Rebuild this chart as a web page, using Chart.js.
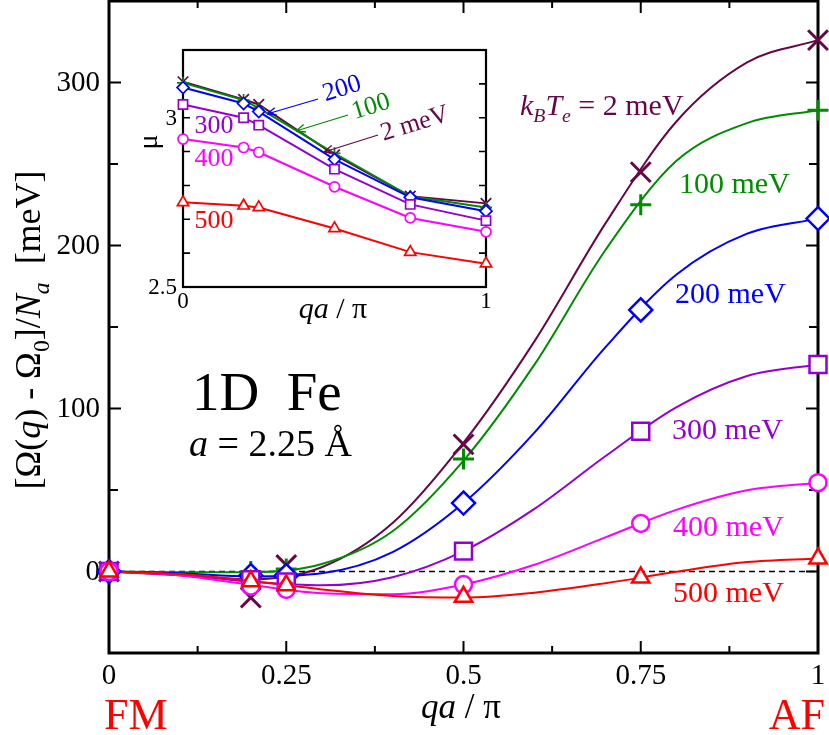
<!DOCTYPE html>
<html>
<head>
<meta charset="utf-8">
<script src="https://cdn.jsdelivr.net/npm/chart.js@4.4.1/dist/chart.umd.min.js"></script>
<style>
  body { margin: 0; background: #fff; }
  #wrap { position: relative; width: 829px; height: 735px; }
  #main { position: absolute; left: 0; top: 0; }
  #inset { position: absolute; left: 130px; top: 40px; }
</style>
</head>
<body>
<div id="wrap">
  <canvas id="main" width="829" height="735"></canvas>
  <canvas id="inset" width="370" height="290"></canvas>
</div>
<script>
const serif = '"Liberation Serif", "Times New Roman", serif';

// electron temperatures kB*Te (meV)
const temps = ['2', '100', '200', '300', '400', '500'];

// calculated energies [Omega(q) - Omega0]/Na (meV)
const qCalc = [0, 0.2, 0.25, 0.5, 0.75, 1];
const dOmega2   = [0, -16, 4, 78, 245, 326];
const dOmega100 = [0, 0, 1.5, 69, 225, 283];
const dOmega200 = [0, -2.5, -2.5, 42, 160.5, 216.5];
const dOmega300 = [0, -5, -6.5, 12.5, 86, 127];
const dOmega400 = [0, -9, -11, -8, 29.5, 54.5];
const dOmega500 = [0, -6, -8.5, -15.5, -3.7, 8];

// smooth fit curves through the calculated points
const qFit = [0, 0.1, 0.2, 0.3, 0.4, 0.5, 0.6, 0.7, 0.8, 0.9, 1];
const fit2   = [0, -2.3, -4.8, 2.6, 29.7, 79, 141.2, 213.4, 275.9, 312.3, 326];
const fit100 = [0, -0.4, -0.4, 4.6, 24.7, 68, 126.9, 197.1, 251.8, 275.1, 283];
const fit200 = [0, -1.1, -3.0, -1.1, 11.9, 42, 85.2, 137.5, 182.1, 207.3, 216.5];
const fit300 = [0, -1.9, -6.2, -8.5, -3.5, 12.5, 38.4, 70.7, 100.7, 119.9, 127];
const fit400 = [0, -2.4, -8.2, -13.3, -13.9, -8, 4.1, 20.9, 37.8, 49.8, 54.5];
const fit500 = [0, -1.6, -5.8, -11.0, -15.0, -16, -13.0, -7.2, -0.2, 5.8, 8];

// inset: local moment mu
const mu2   = [3.106, 3.054, 3.039, 2.890, 2.768, 2.747];
const mu100 = [3.103, 3.052, 3.028, 2.895, 2.768, 2.735];
const mu200 = [3.089, 3.042, 3.018, 2.877, 2.765, 2.724];
const mu300 = [3.039, 3.000, 2.978, 2.848, 2.744, 2.696];
const mu400 = [2.937, 2.912, 2.898, 2.796, 2.704, 2.663];
const mu500 = [2.750, 2.740, 2.735, 2.673, 2.603, 2.569];

// ticks
const xTicks = [0, 0.25, 0.5, 0.75, 1];
const xTickLabels = ['0', '0.25', '0.5', '0.75', '1'];
const xMinor = [0.125, 0.375, 0.625, 0.875];
const yTicks = [0, 100, 200, 300];
const yMinor = [-50, 50, 150, 250];
const zeroQ = [0, 1];
const zeroLine = [0, 0];
const insetXTicks = [0, 1];
const insetYTicks = [2.5, 3];
const insetYLabels = ['2.5', '3'];
const insetYMinor = [2.6, 2.7, 2.8, 2.9, 3.1];

const colors = ['rgb(103,7,72)', 'rgb(0,139,0)', 'rgb(0,0,255)', 'rgb(148,0,211)', 'rgb(255,0,255)', 'rgb(255,0,0)'];
const symbols = ['crossRot', 'cross', 'rectRot', 'rect', 'circle', 'triangle'];
const mainRadius = [14, 10.5, 11.5, 12, 8.5, 10];
const mainPointWidth = [3, 3, 2.5, 2.5, 2.5, 2.5];
const insetRadius = [7.5, 6, 6, 6.5, 5, 6.5];

const calc = [dOmega2, dOmega100, dOmega200, dOmega300, dOmega400, dOmega500];
const fits = [fit2, fit100, fit200, fit300, fit400, fit500];
const mus = [mu2, mu100, mu200, mu300, mu400, mu500];

const xy = (xs, ys) => xs.map((x, i) => ({ x: x, y: ys[i] }));

Chart.defaults.font.family = serif;
Chart.defaults.color = '#000';

// text made of pieces: '' normal, 'i' italic, 'sub' subscript, 'isub' italic subscript
function richText(ctx, parts, x, y, size, align) {
  const pieces = parts.map(([t, st]) => {
    const small = st.includes('sub');
    const fs = small ? size * 0.66 : size;
    const font = (st.startsWith('i') ? 'italic ' : '') + fs + 'px ' + serif;
    ctx.font = font;
    return { t: t, font: font, w: ctx.measureText(t).width, dy: small ? size * 0.24 : 0 };
  });
  const total = pieces.reduce((s, p) => s + p.w, 0);
  let cx = align === 'center' ? x - total / 2 : (align === 'right' ? x - total : x);
  ctx.textAlign = 'left';
  ctx.textBaseline = 'alphabetic';
  pieces.forEach(p => { ctx.font = p.font; ctx.fillText(p.t, cx, y + p.dy); cx += p.w; });
}

function plainText(ctx, t, x, y, size, color, align, baseline) {
  ctx.font = size + 'px ' + serif;
  ctx.fillStyle = color;
  ctx.textAlign = align || 'left';
  ctx.textBaseline = baseline || 'alphabetic';
  ctx.fillText(t, x, y);
}

// ---------- main panel ----------
const mainSets = [];
temps.forEach((t, i) => {
  mainSets.push({
    label: t + ' meV',
    data: xy(qCalc, calc[i]),
    pointStyle: symbols[i],
    pointRadius: mainRadius[i],
    pointBorderWidth: mainPointWidth[i],
    pointBorderColor: colors[i],
    pointBackgroundColor: '#fff',
    showLine: false,
    clip: false,
    order: 5 - i
  });
  mainSets.push({
    label: t + ' meV fit',
    data: xy(qFit, fits[i]),
    showLine: true,
    borderColor: colors[i],
    borderWidth: 2,
    pointRadius: 0,
    cubicInterpolationMode: 'monotone',
    clip: false,
    order: 20 - i
  });
});
mainSets.push({
  label: 'zero',
  data: xy(zeroQ, zeroLine),
  showLine: true,
  borderColor: '#000',
  borderWidth: 1.3,
  borderDash: [6, 4],
  pointRadius: 0,
  order: 30
});

const mainFrame = {
  id: 'mainFrame',
  beforeDatasetsDraw(chart) {
    const { ctx, chartArea: a, scales: { x, y } } = chart;
    ctx.save();
    ctx.strokeStyle = '#000';
    ctx.lineWidth = 2;
    ctx.beginPath();
    const xt = (v, len) => {
      const p = x.getPixelForValue(v);
      ctx.moveTo(p, a.bottom); ctx.lineTo(p, a.bottom - len);
      ctx.moveTo(p, a.top); ctx.lineTo(p, a.top + len);
    };
    const yt = (v, len) => {
      const p = y.getPixelForValue(v);
      ctx.moveTo(a.left, p); ctx.lineTo(a.left + len, p);
      ctx.moveTo(a.right, p); ctx.lineTo(a.right - len, p);
    };
    xTicks.forEach(v => xt(v, 12));
    xMinor.forEach(v => xt(v, 7));
    yTicks.forEach(v => yt(v, 12));
    yMinor.forEach(v => yt(v, 9));
    ctx.stroke();
    ctx.lineWidth = 3;
    ctx.strokeRect(a.left, a.top, a.right - a.left, a.bottom - a.top);

    // tick labels
    xTicks.forEach((v, i) => plainText(ctx, xTickLabels[i], x.getPixelForValue(v), a.bottom + 31, 29, '#000', 'center'));
    yTicks.forEach(v => plainText(ctx, String(v), a.left - 9, y.getPixelForValue(v) + 1, 29, '#000', 'right', 'middle'));
    ctx.restore();
  },
  afterDraw(chart) {
    const ctx = chart.ctx;
    ctx.save();
    // axis titles
    ctx.fillStyle = '#000';
    ctx.save();
    ctx.translate(40, 330);
    ctx.rotate(-Math.PI / 2);
    richText(ctx, [['[\u03A9(', ''], ['q', 'i'], [') - \u03A9', ''], ['0', 'sub'], [']/', ''], ['N', 'i'], ['a', 'isub'], ['  [meV]', '']], 0, 0, 36, 'center');
    ctx.restore();
    ctx.fillStyle = '#000';
    richText(ctx, [['qa', 'i'], [' / \u03C0', '']], 461, 718, 35, 'center');
    plainText(ctx, 'FM', 104, 729, 44, 'rgb(255,0,0)');
    plainText(ctx, 'AF', 825, 729, 44, 'rgb(255,0,0)', 'right');

    // system
    plainText(ctx, '1D  Fe', 192, 410, 55, '#000');
    ctx.fillStyle = '#000';
    richText(ctx, [['a', 'i'], [' = 2.25 \u00C5', '']], 189, 456, 38, 'left');

    // curve labels
    ctx.fillStyle = colors[0];
    richText(ctx, [['k', 'i'], ['B', 'isub'], ['T', 'i'], ['e', 'isub'], [' = ' + temps[0] + ' meV', '']], 520, 115, 30, 'left');
    plainText(ctx, temps[1] + ' meV', 679, 193, 30, colors[1]);
    plainText(ctx, temps[2] + ' meV', 675, 303, 30, colors[2]);
    plainText(ctx, temps[3] + ' meV', 672, 439, 30, colors[3]);
    plainText(ctx, temps[4] + ' meV', 673, 536, 30, colors[4]);
    plainText(ctx, temps[5] + ' meV', 673, 602, 30, colors[5]);
    ctx.restore();
  }
};

new Chart(document.getElementById('main'), {
  type: 'scatter',
  data: { datasets: mainSets },
  options: {
    responsive: false,
    animation: false,
    devicePixelRatio: 1,
    layout: { autoPadding: false, padding: { top: 1, right: 11, bottom: 82, left: 109 } },
    plugins: { legend: { display: false }, tooltip: { enabled: false } },
    scales: {
      x: { type: 'linear', min: 0, max: 1, display: false },
      y: { type: 'linear', min: -50, max: 350, display: false }
    }
  },
  plugins: [mainFrame]
});

// ---------- inset: moment ----------
const insetSets = temps.map((t, i) => ({
  label: t + ' meV',
  data: xy(qCalc, mus[i]),
  showLine: true,
  tension: 0,
  borderColor: colors[i],
  borderWidth: 2,
  pointStyle: symbols[i],
  pointRadius: insetRadius[i],
  pointBorderWidth: 1.7,
  pointBorderColor: colors[i],
  pointBackgroundColor: '#fff',
  clip: false,
  order: 5 - i
}));

function arrow(ctx, x0, y0, x1, y1, color) {
  const ang = Math.atan2(y1 - y0, x1 - x0);
  ctx.strokeStyle = color;
  ctx.lineWidth = 1.3;
  ctx.beginPath();
  ctx.moveTo(x0, y0); ctx.lineTo(x1, y1);
  ctx.moveTo(x1, y1); ctx.lineTo(x1 - 10 * Math.cos(ang - 0.4), y1 - 10 * Math.sin(ang - 0.4));
  ctx.moveTo(x1, y1); ctx.lineTo(x1 - 10 * Math.cos(ang + 0.4), y1 - 10 * Math.sin(ang + 0.4));
  ctx.stroke();
}

function tiltText(ctx, t, x, y, color) {
  ctx.save();
  ctx.translate(x, y);
  ctx.rotate(-0.3);
  ctx.font = '26px ' + serif;
  ctx.fillStyle = color;
  ctx.textAlign = 'center';
  ctx.textBaseline = 'middle';
  ctx.fillText(t, 0, 0);
  ctx.restore();
}

const insetFrame = {
  id: 'insetFrame',
  beforeDatasetsDraw(chart) {
    const { ctx, chartArea: a, scales: { x, y } } = chart;
    ctx.save();
    ctx.fillStyle = '#fff';
    ctx.fillRect(a.left, a.top, a.right - a.left, a.bottom - a.top);
    ctx.strokeStyle = '#000';
    ctx.lineWidth = 1.6;
    ctx.beginPath();
    insetYTicks.concat(insetYMinor).forEach(v => {
      const p = y.getPixelForValue(v);
      ctx.moveTo(a.left, p); ctx.lineTo(a.left + 7, p);
      ctx.moveTo(a.right, p); ctx.lineTo(a.right - 7, p);
    });
    ctx.stroke();
    ctx.lineWidth = 2.2;
    ctx.strokeRect(a.left, a.top, a.right - a.left, a.bottom - a.top);

    insetXTicks.forEach(v => plainText(ctx, String(v), x.getPixelForValue(v), a.bottom + 21, 23, '#000', 'center'));
    insetYTicks.forEach((v, i) => plainText(ctx, insetYLabels[i], a.left - 6, y.getPixelForValue(v) + 1, 23, '#000', 'right', 'middle'));
    ctx.restore();
  },
  afterDraw(chart) {
    const ctx = chart.ctx;
    ctx.save();
    ctx.save();
    ctx.translate(27, 102);
    ctx.rotate(-Math.PI / 2);
    plainText(ctx, '\u03BC', 0, 0, 28, '#000', 'center');
    ctx.restore();
    ctx.fillStyle = '#000';
    richText(ctx, [['qa', 'i'], [' / \u03C0', '']], 203, 278, 30, 'center');

    plainText(ctx, temps[3], 84, 93, 26, colors[3], 'center');
    plainText(ctx, temps[4], 84, 126, 26, colors[4], 'center');
    plainText(ctx, temps[5], 84, 188, 26, colors[5], 'center');

    arrow(ctx, 188, 59, 137, 74, colors[2]);
    arrow(ctx, 218, 75, 166, 91, colors[1]);
    arrow(ctx, 248, 95, 194, 112, colors[0]);
    tiltText(ctx, temps[2], 212, 49, colors[2]);
    tiltText(ctx, temps[1], 241, 67, colors[1]);
    tiltText(ctx, temps[0] + ' meV', 285, 84, colors[0]);
    ctx.restore();
  }
};

new Chart(document.getElementById('inset'), {
  type: 'scatter',
  data: { datasets: insetSets },
  options: {
    responsive: false,
    animation: false,
    devicePixelRatio: 1,
    layout: { autoPadding: false, padding: { top: 10, right: 14, bottom: 43, left: 53 } },
    plugins: { legend: { display: false }, tooltip: { enabled: false } },
    scales: {
      x: { type: 'linear', min: 0, max: 1, display: false },
      y: { type: 'linear', min: 2.5, max: 3.2, display: false }
    }
  },
  plugins: [insetFrame]
});
</script>
</body>
</html>
